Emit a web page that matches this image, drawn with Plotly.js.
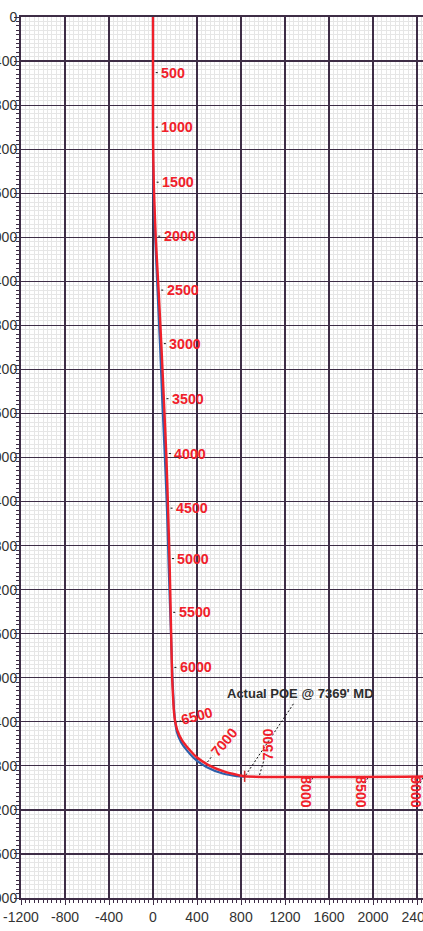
<!DOCTYPE html>
<html><head><meta charset="utf-8">
<script src="https://cdn.plot.ly/plotly-3.0.1.min.js"></script>
<style>html,body{margin:0;padding:0;background:#fff;overflow:hidden}#chart{width:423px;height:931px}</style>
</head><body><div id="chart"></div>
<script>
// ---- data ----
const planVS  = [0, 0, 3, 10, 25, 52, 77, 100, 122, 138, 152, 163, 174, 181, 190, 202, 222, 263, 318, 395, 505, 650, 780, 833, 2600];
const planTVD = [0, 1000, 1300, 1600, 2000, 2500, 3000, 3500, 4000, 4500, 5000, 5500, 6000, 6150, 6300, 6400, 6480, 6566, 6638, 6720, 6793, 6853, 6885, 6895, 6895];
const actualVS  = [0, 0, 5, 20, 42, 65, 85, 108, 128, 143, 160, 177, 184, 192, 202, 216, 255, 310, 385, 490, 635, 760, 833];
const actualTVD = [0, 1200, 1600, 2000, 2500, 3000, 3500, 4000, 4500, 5000, 5500, 6000, 6150, 6300, 6400, 6490, 6585, 6662, 6742, 6812, 6870, 6893, 6898];
const markerMD  = ['500','1000','1500','2000','2500','3000','3500','4000','4500','5000','5500','6000','6500','7000','7500','8000','8500','9000'];
const markerVS  = [2, 4, 10, 25, 52, 76, 100, 122, 137, 150, 161, 172, 198, 486, 964, 1464, 1964, 2464];
const markerTVD = [505, 1000, 1500, 1990, 2480, 2966, 3466, 3964, 4460, 4918, 5406, 5906, 6405, 6779, 6897, 6897, 6897, 6897];
const poeLabel = "Actual POE @ 7369' MD";
const poeVS = 833, poeTVD = 6895;
const xTickVals = [-1200, -800, -400, 0, 400, 800, 1200, 1600, 2000, 2400];
const yTickVals = [0, 400, 800, 1200, 1600, 2000, 2400, 2800, 3200, 3600, 4000, 4400, 4800, 5200, 5600, 6000, 6400, 6800, 7200, 7600, 8000];

// ---- layout geometry ----
const W = 423, H = 931, M = {l: 21, r: 0, t: 17, b: 33};
const xRange = [-1200, 2454.5], yRange = [8000, 0];
const pw = W - M.l - M.r, ph = H - M.t - M.b;
const ux = (xRange[1] - xRange[0]) / pw, uy = (yRange[0] - yRange[1]) / ph;

const RED = '#f0202a', BLUE = '#2f5faa', GRID = '#3e2d46';
const labelFont = {family: 'Liberation Sans, Arial, sans-serif', size: 14.3, color: RED, weight: 'bold'};

// per-marker label placement in pixels: text angle, label centre offset, leader start / end offsets
function markerStyle(i) {
  const n = markerMD[i].length;
  if (i < 12) return {ang: 0, c: [8 + n * 3.95, 0], a: [2.5, 0], b: [6.5, 0]};
  if (i === 12) return {ang: -15, c: [22, -6.3], a: [1, -0.3], b: [6, -1.5]};
  if (i === 13) return {ang: -50, c: [17.8, -21.8], a: [1, -1.5], b: [6, -8]};
  if (i === 14) return {ang: -90, c: [8.7, -32], a: [0.5, -1.5], b: [4.5, -15]};
  return {ang: 90, c: [-8, 15.5], a: [-1.3, 1.2], b: [-4, 6.8]};
}

const leadX = [], leadY = [], annotations = [];
markerMD.forEach((t, i) => {
  const s = markerStyle(i);
  leadX.push(markerVS[i] + s.a[0] * ux, markerVS[i] + s.b[0] * ux, null);
  leadY.push(markerTVD[i] + s.a[1] * uy, markerTVD[i] + s.b[1] * uy, null);
  annotations.push({
    x: markerVS[i] + s.c[0] * ux, y: markerTVD[i] + s.c[1] * uy,
    xref: 'x', yref: 'y', text: t, showarrow: false, textangle: s.ang,
    xanchor: 'center', yanchor: 'middle', font: labelFont
  });
});
// POE leader and label
leadX.push(poeVS + 1 * ux, poeVS + 49.7 * ux, null);
leadY.push(poeTVD - 1 * uy, poeTVD - 73.8 * uy, null);
annotations.push({
  x: poeVS + 56 * ux, y: poeTVD - 83 * uy, xref: 'x', yref: 'y', text: poeLabel,
  showarrow: false, xanchor: 'center', yanchor: 'middle',
  font: {family: 'Liberation Sans, Arial, sans-serif', size: 13, color: '#2e2e2e', weight: 'bold'}
});

const traces = [
  {x: leadX, y: leadY, mode: 'lines', line: {color: '#111', width: 1, dash: '2px,2px'}, hoverinfo: 'skip'},
  {x: actualVS, y: actualTVD, mode: 'lines', line: {color: BLUE, width: 2.2, shape: 'spline', smoothing: 0.8}},
  {x: planVS, y: planTVD, mode: 'lines', line: {color: RED, width: 2.4, shape: 'spline', smoothing: 0.8}},
  {x: [poeVS], y: [poeTVD], mode: 'markers', marker: {symbol: 'line-ns-open', size: 8, line: {color: RED, width: 1.5}}}
];

const axisCommon = {
  showline: true, linecolor: GRID, linewidth: 2, mirror: true,
  showgrid: true, gridcolor: GRID, gridwidth: 1.2, zeroline: false,
  ticks: 'outside', ticklen: 5, tickcolor: GRID, tickwidth: 1,
  ticklabeloverflow: 'allow',
  tickfont: {family: 'Liberation Sans, Arial, sans-serif', size: 14, color: '#333'},
  minor: {dtick: 40, showgrid: true, gridcolor: '#e6e6e6', gridwidth: 1, ticks: 'outside', ticklen: 3, tickcolor: GRID, tickwidth: 1},
  fixedrange: true
};

const layout = {
  width: W, height: H, margin: M, showlegend: false,
  paper_bgcolor: '#fff', plot_bgcolor: '#fff',
  xaxis: Object.assign({}, axisCommon, {range: xRange, tickmode: 'array', tickvals: xTickVals, ticktext: xTickVals.map(String), automargin: false}),
  yaxis: Object.assign({}, axisCommon, {range: yRange, tickmode: 'array', tickvals: yTickVals, ticktext: yTickVals.map(String), automargin: false, ticklabelstandoff: -6}),
  annotations: annotations
};
Plotly.newPlot('chart', traces, layout, {staticPlot: true, displayModeBar: false});
</script>
</body></html>
